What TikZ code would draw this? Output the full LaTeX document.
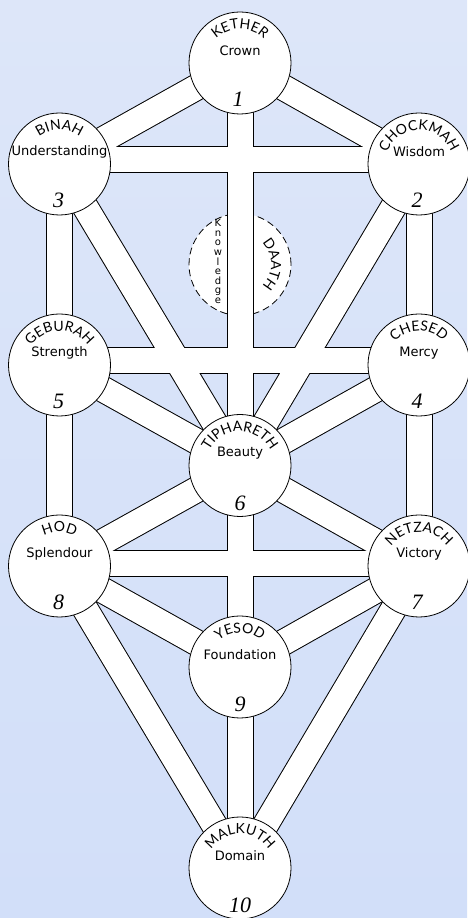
\documentclass[tikz,border=0pt]{standalone}
\usepackage{fontspec}
\newfontfamily\namefont{Lato}
\newfontfamily\subfont{DejaVu Sans}
\newfontfamily\numfont{Liberation Serif}
\usetikzlibrary{decorations.text,calc}
\pgfdeclarelayer{bg}
\pgfdeclarelayer{pathsA}
\pgfdeclarelayer{pathsB}
\pgfsetlayers{bg,pathsA,pathsB,main}
\definecolor{bgtop}{RGB}{221,230,249}
\definecolor{bgbot}{RGB}{210,223,249}
\newcommand{\namestyle}{\namefont\fontsize{14}{14}\selectfont}
\tikzset{
  sephira/.style={circle,draw=black,line width=0.8pt,fill=white,minimum size=102pt,inner sep=0pt},
  daathbox/.style={circle,draw=black,line width=0.8pt,fill=white,minimum size=102pt,inner sep=0pt,dash pattern=on 7pt off 4pt},
  pathout/.style={line width=27pt,draw=black},
  pathin/.style={line width=25pt,draw=white},
  sub/.style={font=\subfont\fontsize{13}{13}\selectfont,inner sep=0pt},
  num/.style={font=\numfont\itshape\fontsize{22}{22}\selectfont,inner sep=0pt},
  kn/.style={font=\subfont\fontsize{10}{9.6}\selectfont,inner sep=0pt,align=center},
  curved/.style={decorate,decoration={text along path,text align=center,text={#1}}}
}
\begin{document}
\begin{tikzpicture}[x=1pt,y=1pt]
\begin{pgfonlayer}{bg}
  \shade[top color=bgtop,bottom color=bgbot] (0,0) rectangle (467,918);
  \node[daathbox] (daath) at (240,653.5) {};
\end{pgfonlayer}
\useasboundingbox (0,0) rectangle (467,918);

% sephiroth
\node[sephira] (kether)   at (240,855) {};
\node[sephira] (binah)    at (59.5,754) {};
\node[sephira] (chokmah)  at (419,754) {};
\node[sephira] (geburah)  at (59.5,553) {};
\node[sephira] (chesed)   at (419,553) {};
\node[sephira] (tiph)     at (240,452.5) {};
\node[sephira] (hod)      at (59.5,352) {};
\node[sephira] (netzach)  at (419,352) {};
\node[sephira] (yesod)    at (240,251) {};
\node[sephira] (malkuth)  at (240,50) {};

% paths
\foreach \a/\b/\s in {kether/chokmah/0,kether/binah/0,kether/tiph/0,chokmah/binah/4,chokmah/tiph/0,
  chokmah/chesed/0,binah/tiph/0,binah/geburah/0,chesed/geburah/4,chesed/tiph/0,chesed/netzach/0,
  geburah/tiph/0,geburah/hod/0,tiph/netzach/0,tiph/yesod/0,tiph/hod/0,netzach/hod/2,netzach/yesod/0,
  netzach/malkuth/0,hod/yesod/0,hod/malkuth/0,yesod/malkuth/0}{
  \begin{pgfonlayer}{pathsA}
    \draw[pathout] ([yshift=\s pt]\a.center) -- ([yshift=\s pt]\b.center);
  \end{pgfonlayer}
  \begin{pgfonlayer}{pathsB}
    \draw[pathin] ([yshift=\s pt]\a.center) -- ([yshift=\s pt]\b.center);
  \end{pgfonlayer}
}

% subtitles
\node[sub] (t1)  at ($(kether)+(0,12)$)  {Crown};
\node[sub] (t2)  at ($(chokmah)+(0,12)$) {Wisdom};
\node[sub] (t3)  at ($(binah)+(0,12)$)   {Understanding};
\node[sub] (t4)  at ($(chesed)+(0,12)$)  {Mercy};
\node[sub] (t5)  at ($(geburah)+(0,12)$) {Strength};
\node[sub] (t6)  at ($(tiph)+(0,12)$)    {Beauty};
\node[sub] (t7)  at ($(netzach)+(0,12)$) {Victory};
\node[sub] (t8)  at ($(hod)+(0,12)$)     {Splendour};
\node[sub] (t9)  at ($(yesod)+(0,12)$)   {Foundation};
\node[sub] (t10) at ($(malkuth)+(0,12)$) {Domain};

% numbers
\node[num] (n1)  at ($(kether)+(-2,-36)$)  {1};
\node[num] (n2)  at ($(chokmah)+(-2,-36)$) {2};
\node[num] (n3)  at ($(binah)+(-1,-36)$)   {3};
\node[num] (n4)  at ($(chesed)+(-2,-36)$)  {4};
\node[num] (n5)  at ($(geburah)+(-1,-36)$) {5};
\node[num] (n6)  at ($(tiph)+(0,-38)$)     {6};
\node[num] (n7)  at ($(netzach)+(-2,-36)$) {7};
\node[num] (n8)  at ($(hod)+(-1,-36)$)     {8};
\node[num] (n9)  at ($(yesod)+(0,-37)$)    {9};
\node[num] (n10) at ($(malkuth)+(0,-37)$)  {10};

% curved names
\foreach \s/\nm in {kether/KETHER,chokmah/CHOCKMAH,binah/BINAH,chesed/CHESED,geburah/GEBURAH,
  tiph/TIPHARETH,netzach/NETZACH,hod/HOD,yesod/YESOD,malkuth/MALKUTH}{
  \path[curved={|\namestyle|\nm}] ($(\s)+(172:34)$) arc[start angle=172,end angle=8,radius=34];
}

% Daath texts
\path[curved={|\namestyle|DAATH}] ($(daath)+(62:31)$) arc[start angle=62,end angle=-62,radius=31];
\node[kn] (know) at ($(daath)+(-22,3)$) {K\\n\\o\\w\\l\\e\\d\\g\\e};
\end{tikzpicture}
\end{document}
